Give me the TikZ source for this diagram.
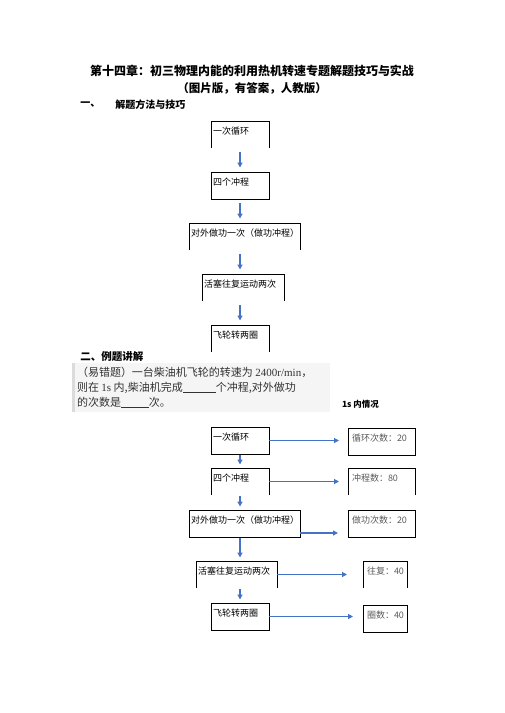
\documentclass[tikz,border=0pt]{standalone}
\usepackage{fontspec}
\setmainfont{Noto Sans CJK SC}
\newfontfamily\serifmix{Liberation Serif}
\usetikzlibrary{arrows.meta}
\definecolor{flow}{HTML}{4472C4}
\definecolor{ink}{HTML}{333333}
\definecolor{note}{HTML}{5A5A5A}
\tikzset{>={Triangle[length=5pt,width=5pt]}}
\tikzset{
  every node/.style = {outer sep=0pt},
  boxline/.style = {line width=0.8pt},
  stage/.style = {anchor=north west, inner xsep=2pt, inner ysep=0pt,
    text height=13pt, text depth=14pt, text width=#1, align=left,
    font=\fontsize{9}{9}\selectfont},
  note/.style = {stage=#1, inner xsep=4pt, text=note},
  title/.style = {font=\bfseries\fontsize{12}{12}\selectfont},
  head/.style = {anchor=west, font=\bfseries\fontsize{10.5}{10.5}\selectfont},
  quest/.style = {anchor=base west, text=ink, inner sep=0pt,
    font=\fontsize{11}{11}\selectfont},
  down/.style = {->, flow, line width=1.2pt},
  side/.style = {->, flow, line width=1.2pt}
}
\newcommand\opensides[1]{\draw[boxline] (#1.south west) |- (#1.north east) -- (#1.south east);}
\newcommand\blank[1]{\rule[-1.5pt]{#1}{0.5pt}}

\begin{document}
\begin{tikzpicture}[x=1pt,y=-1pt]
  \useasboundingbox (0,0) rectangle (504,713);
  \node[title] (H) at (252,71) {第十四章：初三物理内能的利用热机转速专题解题技巧与实战};
  \node[title,font=\bfseries\fontsize{11.5}{11.5}\selectfont] (Hs) at (252,88) {（图片版，有答案，人教版）};
  \node[head,font=\bfseries\fontsize{10}{10}\selectfont] (P1) at (77,105) {一、};
  \node[head,font=\bfseries\fontsize{10}{10}\selectfont] (P1t) at (112,105) {解题方法与技巧};
  \coordinate (axis) at (240,0);

  \node[stage=54pt] (S1) at (211,121) {一次循环};
  \node[stage=54pt,draw,boxline] (S2) at (211,172) {四个冲程};
  \node[stage=107pt] (S3) at (189,223) {对外做功一次（做功冲程）};
  \node[stage=78pt] (S4) at (202,274) {活塞往复运动两次};
  \node[stage=54pt] (S5) at (211,325) {飞轮转两圈};
  \foreach \n in {S1,S3,S4,S5} {\opensides{\n}}
  \foreach \a/\b in {S1/S2,S2/S3,S3/S4,S4/S5}
    \draw[down,shorten <=4pt,shorten >=4.5pt] (\a.south -| axis) -- (\b.north -| axis);

  \node[head] (P2) at (77,357) {二、例题讲解};
  \fill[black!4] (72,363) rectangle (330,412);
  \fill[black!14] (72,363) rectangle (75,412);
  \node[quest] (Q1) at (77,376) {（易错题）一台柴油机飞轮的转速为 {\serifmix 2400r/min}，};
  \node[quest] (Q2) at (77,391) {则在 {\serifmix 1s} 内,柴油机完成\blank{33pt}个冲程,对外做功};
  \node[quest] (Q3) at (77,406) {的次数是\blank{28pt}次。};
  \node[anchor=base west,inner sep=0pt,font=\bfseries\fontsize{8.5}{8.5}\selectfont] (L) at (342,407) {1s 内情况};

  \node[stage=54pt,draw,boxline] (T1) at (211,427) {一次循环};
  \node[stage=54pt] (T2) at (211,468) {四个冲程};
  \node[stage=107pt,draw,boxline] (T3) at (189,510) {对外做功一次（做功冲程）};
  \node[stage=77pt] (T4) at (196,561) {活塞往复运动两次};
  \node[stage=54pt,draw,boxline] (T5) at (211,603) {飞轮转两圈};
  \node[note=59pt,draw,boxline] (R1) at (348,428) {循环次数：20};
  \node[note=59pt] (R2) at (348,468) {冲程数：80};
  \node[note=59pt,draw,boxline] (R3) at (348,510) {做功次数：20};
  \node[note=36pt] (R4) at (363,561) {往复：40};
  \node[note=36pt,draw,boxline] (R5) at (363,605) {圈数：40};
  \foreach \n in {T2,T4,R2,R4} {\opensides{\n}}
  \foreach \a/\b in {T1/T2,T2/T3,T3/T4,T4/T5}
    \draw[down,shorten <=1pt,shorten >=3.5pt] (\a.south -| axis) -- (\b.north -| axis);
  \foreach \a/\b/\g in {T1/R1/9,T2/R2/9,T4/R4/16,T5/R5/10}
    \draw[side,shorten >=\g pt] (\a.east) -- (\a.east -| \b.west);
  \draw[side,shorten >=10pt] ([yshift=-9.5pt]T3.east) -- ([yshift=-9.5pt]T3.east -| R3.west);
\end{tikzpicture}
\end{document}
